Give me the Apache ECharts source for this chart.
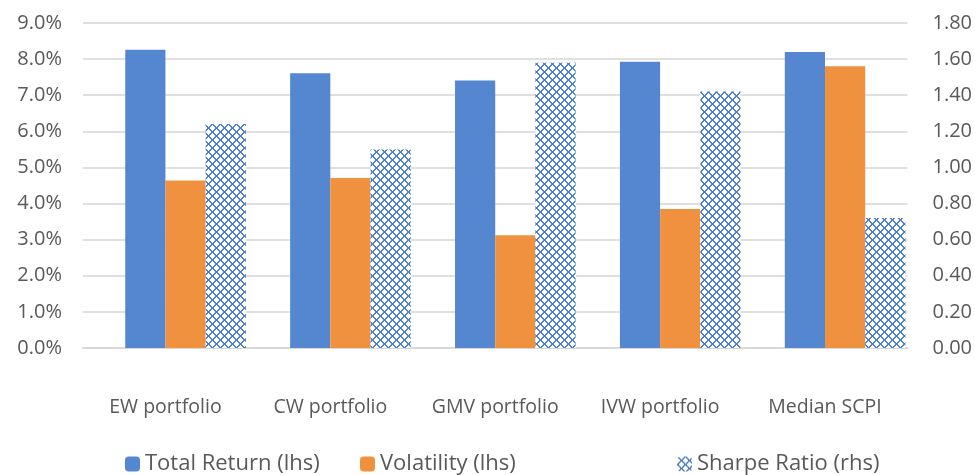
<!DOCTYPE html>
<html>
<head>
<meta charset="utf-8">
<script src="https://cdn.jsdelivr.net/npm/echarts@6/dist/echarts.min.js"></script>
<style>
  html, body { margin: 0; padding: 0; background: #fff; }
  #chart { width: 975px; height: 475px; }
</style>
</head>
<body>
<div id="chart"></div>
<script>
// Portfolio comparison: returns and volatility (left axis, %), Sharpe ratio (right axis)
const categories = ['EW portfolio', 'CW portfolio', 'GMV portfolio', 'IVW portfolio', 'Median SCPI'];
const totalReturn = [8.26, 7.61, 7.41, 7.93, 8.20];
const volatility = [4.64, 4.71, 3.12, 3.85, 7.80];
const sharpeRatio = [1.24, 1.10, 1.58, 1.42, 0.72];
// Empty leading slot in each category group (no values)
const spacer = [null, null, null, null, null];

const seriesNames = ['Total Return (lhs)', 'Volatility (lhs)', 'Sharpe Ratio (rhs)'];

// Small diamond-lattice fill used for the Sharpe ratio bars
function latticeTile() {
  const c = document.createElement('canvas');
  c.width = 8; c.height = 8;
  const g = c.getContext('2d');
  g.fillStyle = '#ffffff';
  g.fillRect(0, 0, 8, 8);
  g.fillStyle = '#4f80d0';
  for (let i = 0; i < 8; i++) {
    g.fillRect(i, i, 1, 1);
    g.fillRect((i + 1) % 8, i, 1, 1);
    g.fillRect(7 - i, i, 1, 1);
    g.fillRect((8 - i) % 8, i, 1, 1);
  }
  return c;
}
const lattice = { image: latticeTile(), repeat: 'repeat' };

const font = '"Open Sans", "Noto Sans", sans-serif';
const textColor = '#595959';
const legendText = { fontSize: 22, color: textColor, fontFamily: font };

const chart = echarts.init(document.getElementById('chart'), null, { renderer: 'canvas' });
chart.setOption({
  animation: false,
  backgroundColor: '#ffffff',
  textStyle: { fontFamily: font },
  grid: { left: 83, right: 67, top: 23, bottom: 127 },
  legend: [
    { data: [seriesNames[0]], left: 120, top: 448, itemWidth: 15, itemHeight: 15, textStyle: legendText },
    { data: [seriesNames[1]], left: 355, top: 448, itemWidth: 15, itemHeight: 15, textStyle: legendText },
    { data: [seriesNames[2]], left: 672, top: 448, itemWidth: 15, itemHeight: 15, textStyle: legendText }
  ],
  xAxis: {
    type: 'category',
    data: categories,
    axisTick: { show: false },
    axisLine: { show: true, lineStyle: { color: '#d9d9d9', width: 2 } },
    axisLabel: { color: textColor, fontSize: 19.5, margin: 49, fontFamily: font,
      interval: 0, hideOverlap: false }
  },
  yAxis: [
    {
      type: 'value', min: 0, max: 9, interval: 1,
      axisLabel: { color: textColor, fontSize: 20, margin: 21, fontFamily: font,
        formatter: v => v.toFixed(1) + '%' },
      axisLine: { show: false }, axisTick: { show: false },
      splitLine: { lineStyle: { color: '#e0e0e0', width: 2 } }
    },
    {
      type: 'value', min: 0, max: 1.8, interval: 0.2, position: 'right',
      axisLabel: { color: textColor, fontSize: 20, margin: 25, fontFamily: font,
        formatter: v => v.toFixed(2) },
      axisLine: { show: false }, axisTick: { show: false },
      splitLine: { show: false }
    }
  ],
  series: [
    { name: 'spacer', type: 'bar', yAxisIndex: 0, data: spacer,
      barGap: '0%', barCategoryGap: '2.5%', itemStyle: { color: 'transparent' } },
    { name: seriesNames[0], type: 'bar', yAxisIndex: 0, data: totalReturn,
      barGap: '0%', barCategoryGap: '2.5%', itemStyle: { color: '#5587d0' } },
    { name: seriesNames[1], type: 'bar', yAxisIndex: 0, data: volatility,
      barGap: '0%', barCategoryGap: '2.5%', itemStyle: { color: '#f0913f' } },
    { name: seriesNames[2], type: 'bar', yAxisIndex: 1, data: sharpeRatio,
      barGap: '0%', barCategoryGap: '2.5%', itemStyle: { color: lattice } }
  ]
});
</script>
</body>
</html>
